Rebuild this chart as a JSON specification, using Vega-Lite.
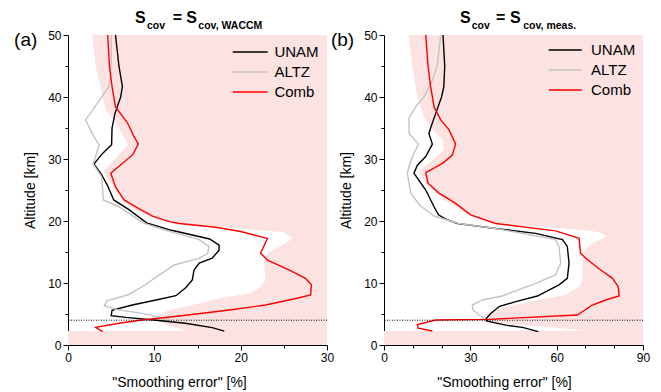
{
  "$schema": "https://vega.github.io/schema/vega-lite/v6.json",
  "background": "white",
  "padding": {"left": 14, "top": 10, "right": 5, "bottom": 3},
  "bounds": "flush",
  "spacing": 57,
  "config": {
    "view": {"stroke": null},
    "font": "Liberation Sans",
    "axis": {"grid": false, "labelFlush": false, "labelOverlap": false, "domainColor": "#000", "tickColor": "#000", "labelColor": "#000", "titleColor": "#000", "labelFontSize": 12, "titleFontSize": 14, "titleFontWeight": "normal", "labelFont": "Liberation Sans", "titleFont": "Liberation Sans", "domainWidth": 1, "tickWidth": 1, "tickSize": 5}
  },
  "datasets": {
    "lines": [
      {"p":"a","s":"UNAM","i":1,"alt":50,"e":5.5},{"p":"a","s":"UNAM","i":2,"alt":45,"e":5.9},{"p":"a","s":"UNAM","i":3,"alt":41.7,"e":6.3},{"p":"a","s":"UNAM","i":4,"alt":40,"e":6.1},{"p":"a","s":"UNAM","i":5,"alt":37.4,"e":5.45},{"p":"a","s":"UNAM","i":6,"alt":35,"e":5.1},{"p":"a","s":"UNAM","i":7,"alt":32.3,"e":5.05},{"p":"a","s":"UNAM","i":8,"alt":30.9,"e":4.0},{"p":"a","s":"UNAM","i":9,"alt":29.2,"e":3.0},{"p":"a","s":"UNAM","i":10,"alt":27.7,"e":3.8},{"p":"a","s":"UNAM","i":11,"alt":25.8,"e":4.55},{"p":"a","s":"UNAM","i":12,"alt":23.4,"e":5.3},{"p":"a","s":"UNAM","i":13,"alt":21.8,"e":7.1},{"p":"a","s":"UNAM","i":14,"alt":19.7,"e":9.1},{"p":"a","s":"UNAM","i":15,"alt":18.5,"e":12.0},{"p":"a","s":"UNAM","i":16,"alt":17.1,"e":16.4},{"p":"a","s":"UNAM","i":17,"alt":16.1,"e":17.5},{"p":"a","s":"UNAM","i":18,"alt":15.3,"e":17.5},{"p":"a","s":"UNAM","i":19,"alt":14.0,"e":16.7},{"p":"a","s":"UNAM","i":20,"alt":13.2,"e":15.2},{"p":"a","s":"UNAM","i":21,"alt":12.1,"e":14.6},{"p":"a","s":"UNAM","i":22,"alt":10.5,"e":14.4},{"p":"a","s":"UNAM","i":23,"alt":9.2,"e":13.6},{"p":"a","s":"UNAM","i":24,"alt":7.95,"e":12.5},{"p":"a","s":"UNAM","i":25,"alt":7.26,"e":10.2},{"p":"a","s":"UNAM","i":26,"alt":6.45,"e":7.45},{"p":"a","s":"UNAM","i":27,"alt":5.6,"e":5.1},{"p":"a","s":"UNAM","i":28,"alt":4.73,"e":5.0},{"p":"a","s":"UNAM","i":29,"alt":4.45,"e":6.7},{"p":"a","s":"UNAM","i":30,"alt":4.0,"e":10.2},{"p":"a","s":"UNAM","i":31,"alt":3.5,"e":13.6},{"p":"a","s":"UNAM","i":32,"alt":2.8,"e":16.7},{"p":"a","s":"UNAM","i":33,"alt":2.25,"e":18.1},
      {"p":"a","s":"ALTZ","i":1,"alt":50,"e":5.0},{"p":"a","s":"ALTZ","i":2,"alt":45,"e":5.0},{"p":"a","s":"ALTZ","i":3,"alt":41.7,"e":4.75},{"p":"a","s":"ALTZ","i":4,"alt":36.3,"e":2.05},{"p":"a","s":"ALTZ","i":5,"alt":33.6,"e":3.0},{"p":"a","s":"ALTZ","i":6,"alt":32.3,"e":3.6},{"p":"a","s":"ALTZ","i":7,"alt":30.4,"e":3.2},{"p":"a","s":"ALTZ","i":8,"alt":29.2,"e":2.9},{"p":"a","s":"ALTZ","i":9,"alt":28.2,"e":3.4},{"p":"a","s":"ALTZ","i":10,"alt":27.1,"e":3.9},{"p":"a","s":"ALTZ","i":11,"alt":23.4,"e":4.1},{"p":"a","s":"ALTZ","i":12,"alt":22.3,"e":5.9},{"p":"a","s":"ALTZ","i":13,"alt":19.7,"e":8.7},{"p":"a","s":"ALTZ","i":14,"alt":18.5,"e":11.3},{"p":"a","s":"ALTZ","i":15,"alt":17.0,"e":15.2},{"p":"a","s":"ALTZ","i":16,"alt":15.9,"e":16.3},{"p":"a","s":"ALTZ","i":17,"alt":14.8,"e":16.2},{"p":"a","s":"ALTZ","i":18,"alt":14.0,"e":15.2},{"p":"a","s":"ALTZ","i":19,"alt":12.9,"e":12.3},{"p":"a","s":"ALTZ","i":20,"alt":10.75,"e":10.0},{"p":"a","s":"ALTZ","i":21,"alt":9.4,"e":8.6},{"p":"a","s":"ALTZ","i":22,"alt":8.06,"e":6.9},{"p":"a","s":"ALTZ","i":23,"alt":7.15,"e":4.55},{"p":"a","s":"ALTZ","i":24,"alt":6.3,"e":4.2},{"p":"a","s":"ALTZ","i":25,"alt":5.7,"e":5.7},{"p":"a","s":"ALTZ","i":26,"alt":5.1,"e":8.6},{"p":"a","s":"ALTZ","i":27,"alt":4.45,"e":10.7},{"p":"a","s":"ALTZ","i":28,"alt":4.3,"e":11.7},
      {"p":"a","s":"Comb","i":1,"alt":50,"e":4.6},{"p":"a","s":"Comb","i":2,"alt":45,"e":4.8},{"p":"a","s":"Comb","i":3,"alt":41.7,"e":5.1},{"p":"a","s":"Comb","i":4,"alt":38.4,"e":5.5},{"p":"a","s":"Comb","i":5,"alt":35.8,"e":6.9},{"p":"a","s":"Comb","i":6,"alt":33.6,"e":7.65},{"p":"a","s":"Comb","i":7,"alt":32.4,"e":8.15},{"p":"a","s":"Comb","i":8,"alt":30.7,"e":7.5},{"p":"a","s":"Comb","i":9,"alt":27.7,"e":4.95},{"p":"a","s":"Comb","i":10,"alt":25.5,"e":5.5},{"p":"a","s":"Comb","i":11,"alt":23.4,"e":6.5},{"p":"a","s":"Comb","i":12,"alt":22.0,"e":8.2},{"p":"a","s":"Comb","i":13,"alt":20.8,"e":9.8},{"p":"a","s":"Comb","i":14,"alt":19.9,"e":11.7},{"p":"a","s":"Comb","i":15,"alt":19.6,"e":12.9},{"p":"a","s":"Comb","i":16,"alt":19.0,"e":17.1},{"p":"a","s":"Comb","i":17,"alt":18.3,"e":20.0},{"p":"a","s":"Comb","i":18,"alt":17.2,"e":23.1},{"p":"a","s":"Comb","i":19,"alt":14.8,"e":22.3},{"p":"a","s":"Comb","i":20,"alt":13.7,"e":23.1},{"p":"a","s":"Comb","i":21,"alt":12.1,"e":25.6},{"p":"a","s":"Comb","i":22,"alt":10.75,"e":27.5},{"p":"a","s":"Comb","i":23,"alt":9.7,"e":28.2},{"p":"a","s":"Comb","i":24,"alt":8.06,"e":28.1},{"p":"a","s":"Comb","i":25,"alt":7.5,"e":26.4},{"p":"a","s":"Comb","i":26,"alt":6.45,"e":22.9},{"p":"a","s":"Comb","i":27,"alt":5.65,"e":18.7},{"p":"a","s":"Comb","i":28,"alt":4.68,"e":12.9},{"p":"a","s":"Comb","i":29,"alt":4.03,"e":8.6},{"p":"a","s":"Comb","i":30,"alt":3.5,"e":5.9},{"p":"a","s":"Comb","i":31,"alt":2.85,"e":3.2},{"p":"a","s":"Comb","i":32,"alt":2.15,"e":4.0},
      {"p":"b","s":"UNAM","i":1,"alt":50,"e":20.5},{"p":"b","s":"UNAM","i":2,"alt":45,"e":21.1},{"p":"b","s":"UNAM","i":3,"alt":41.7,"e":20.8},{"p":"b","s":"UNAM","i":4,"alt":40,"e":20.0},{"p":"b","s":"UNAM","i":5,"alt":37.4,"e":18.0},{"p":"b","s":"UNAM","i":6,"alt":35,"e":16.2},{"p":"b","s":"UNAM","i":7,"alt":34.1,"e":15.6},{"p":"b","s":"UNAM","i":8,"alt":32.4,"e":16.8},{"p":"b","s":"UNAM","i":9,"alt":30.4,"e":14.5},{"p":"b","s":"UNAM","i":10,"alt":29.0,"e":11.6},{"p":"b","s":"UNAM","i":11,"alt":27.7,"e":10.4},{"p":"b","s":"UNAM","i":12,"alt":25.0,"e":14.5},{"p":"b","s":"UNAM","i":13,"alt":22.3,"e":17.4},{"p":"b","s":"UNAM","i":14,"alt":21.0,"e":18.9},{"p":"b","s":"UNAM","i":15,"alt":20.2,"e":22.0},{"p":"b","s":"UNAM","i":16,"alt":19.6,"e":25.5},{"p":"b","s":"UNAM","i":17,"alt":18.8,"e":38.8},{"p":"b","s":"UNAM","i":18,"alt":18.0,"e":52.7},{"p":"b","s":"UNAM","i":19,"alt":17.0,"e":62.0},{"p":"b","s":"UNAM","i":20,"alt":15.9,"e":63.7},{"p":"b","s":"UNAM","i":21,"alt":13.2,"e":64.3},{"p":"b","s":"UNAM","i":22,"alt":10.75,"e":63.7},{"p":"b","s":"UNAM","i":23,"alt":9.7,"e":60.8},{"p":"b","s":"UNAM","i":24,"alt":7.9,"e":53.3},{"p":"b","s":"UNAM","i":25,"alt":7.0,"e":45.8},{"p":"b","s":"UNAM","i":26,"alt":6.2,"e":40.0},{"p":"b","s":"UNAM","i":27,"alt":5.1,"e":37.1},{"p":"b","s":"UNAM","i":28,"alt":4.3,"e":35.6},{"p":"b","s":"UNAM","i":29,"alt":3.9,"e":35.6},{"p":"b","s":"UNAM","i":30,"alt":3.2,"e":42.3},{"p":"b","s":"UNAM","i":31,"alt":2.85,"e":48.1},{"p":"b","s":"UNAM","i":32,"alt":2.15,"e":53.6},
      {"p":"b","s":"ALTZ","i":1,"alt":50,"e":19.7},{"p":"b","s":"ALTZ","i":2,"alt":45,"e":18.5},{"p":"b","s":"ALTZ","i":3,"alt":42.7,"e":16.8},{"p":"b","s":"ALTZ","i":4,"alt":40,"e":13.9},{"p":"b","s":"ALTZ","i":5,"alt":38.4,"e":11.0},{"p":"b","s":"ALTZ","i":6,"alt":36.6,"e":8.7},{"p":"b","s":"ALTZ","i":7,"alt":34.1,"e":8.7},{"p":"b","s":"ALTZ","i":8,"alt":32.4,"e":12.0},{"p":"b","s":"ALTZ","i":9,"alt":30.5,"e":10.0},{"p":"b","s":"ALTZ","i":10,"alt":29.3,"e":9.0},{"p":"b","s":"ALTZ","i":11,"alt":27.7,"e":8.1},{"p":"b","s":"ALTZ","i":12,"alt":24.5,"e":9.3},{"p":"b","s":"ALTZ","i":13,"alt":22.5,"e":12.5},{"p":"b","s":"ALTZ","i":14,"alt":20.8,"e":17.4},{"p":"b","s":"ALTZ","i":15,"alt":19.6,"e":26.0},{"p":"b","s":"ALTZ","i":16,"alt":18.8,"e":38.8},{"p":"b","s":"ALTZ","i":17,"alt":17.0,"e":59.6},{"p":"b","s":"ALTZ","i":18,"alt":15.9,"e":60.8},{"p":"b","s":"ALTZ","i":19,"alt":13.2,"e":61.4},{"p":"b","s":"ALTZ","i":20,"alt":11.3,"e":59.6},{"p":"b","s":"ALTZ","i":21,"alt":9.95,"e":52.7},{"p":"b","s":"ALTZ","i":22,"alt":7.9,"e":41.1},{"p":"b","s":"ALTZ","i":23,"alt":7.26,"e":34.2},{"p":"b","s":"ALTZ","i":24,"alt":6.45,"e":30.7},{"p":"b","s":"ALTZ","i":25,"alt":5.65,"e":30.9},{"p":"b","s":"ALTZ","i":26,"alt":4.84,"e":33.0},{"p":"b","s":"ALTZ","i":27,"alt":4.3,"e":35.0},
      {"p":"b","s":"Comb","i":1,"alt":50,"e":14.5},{"p":"b","s":"Comb","i":2,"alt":45,"e":15.3},{"p":"b","s":"Comb","i":3,"alt":41.7,"e":16.2},{"p":"b","s":"Comb","i":4,"alt":38.4,"e":17.4},{"p":"b","s":"Comb","i":5,"alt":36.3,"e":19.7},{"p":"b","s":"Comb","i":6,"alt":34.7,"e":22.6},{"p":"b","s":"Comb","i":7,"alt":32.4,"e":24.9},{"p":"b","s":"Comb","i":8,"alt":30.6,"e":23.7},{"p":"b","s":"Comb","i":9,"alt":29.3,"e":20.3},{"p":"b","s":"Comb","i":10,"alt":27.8,"e":14.5},{"p":"b","s":"Comb","i":11,"alt":26.1,"e":15.3},{"p":"b","s":"Comb","i":12,"alt":24.5,"e":19.1},{"p":"b","s":"Comb","i":13,"alt":22.85,"e":24.9},{"p":"b","s":"Comb","i":14,"alt":21.0,"e":30.1},{"p":"b","s":"Comb","i":15,"alt":19.6,"e":38.8},{"p":"b","s":"Comb","i":16,"alt":18.4,"e":59.6},{"p":"b","s":"Comb","i":17,"alt":17.2,"e":67.8},{"p":"b","s":"Comb","i":18,"alt":14.8,"e":68.3},{"p":"b","s":"Comb","i":19,"alt":14.0,"e":70.1},{"p":"b","s":"Comb","i":20,"alt":12.1,"e":75.3},{"p":"b","s":"Comb","i":21,"alt":10.75,"e":79.4},{"p":"b","s":"Comb","i":22,"alt":9.4,"e":81.4},{"p":"b","s":"Comb","i":23,"alt":7.9,"e":81.7},{"p":"b","s":"Comb","i":24,"alt":7.26,"e":77.0},{"p":"b","s":"Comb","i":25,"alt":6.45,"e":72.4},{"p":"b","s":"Comb","i":26,"alt":4.84,"e":67.2},{"p":"b","s":"Comb","i":27,"alt":4.14,"e":36.5},{"p":"b","s":"Comb","i":28,"alt":4.03,"e":18.0},{"p":"b","s":"Comb","i":29,"alt":3.3,"e":11.6},{"p":"b","s":"Comb","i":30,"alt":2.7,"e":11.9},{"p":"b","s":"Comb","i":31,"alt":2.26,"e":16.8}
    ],
    "pink": [
      {"p":"a","alt":0,"xl":0},{"p":"a","alt":2.25,"xl":0},{"p":"a","alt":2.3,"xl":13.8},{"p":"a","alt":2.6,"xl":13.0},{"p":"a","alt":3.2,"xl":11.5},{"p":"a","alt":3.75,"xl":10.5},{"p":"a","alt":4.3,"xl":9.8},{"p":"a","alt":4.84,"xl":10.5},{"p":"a","alt":5.65,"xl":11.7},{"p":"a","alt":6.45,"xl":14.4},{"p":"a","alt":7.5,"xl":17.5},{"p":"a","alt":8.3,"xl":21.0},{"p":"a","alt":9.1,"xl":22.1},{"p":"a","alt":10.5,"xl":22.9},{"p":"a","alt":13.2,"xl":22.7},{"p":"a","alt":14.5,"xl":22.9},{"p":"a","alt":15.3,"xl":23.7},{"p":"a","alt":16.4,"xl":25.2},{"p":"a","alt":17.2,"xl":26.0},{"p":"a","alt":18.2,"xl":25.0},{"p":"a","alt":18.5,"xl":22.0},{"p":"a","alt":19.0,"xl":18.0},{"p":"a","alt":19.6,"xl":13.0},{"p":"a","alt":20.2,"xl":10.3},{"p":"a","alt":21.8,"xl":7.8},{"p":"a","alt":23.4,"xl":6.3},{"p":"a","alt":25.5,"xl":5.3},{"p":"a","alt":27.7,"xl":4.2},{"p":"a","alt":28.2,"xl":4.2},{"p":"a","alt":29.8,"xl":5.3},{"p":"a","alt":32.3,"xl":6.9},{"p":"a","alt":33.1,"xl":6.7},{"p":"a","alt":35.8,"xl":5.5},{"p":"a","alt":37.9,"xl":4.4},{"p":"a","alt":40,"xl":4.0},{"p":"a","alt":45,"xl":3.2},{"p":"a","alt":50,"xl":2.8},
      {"p":"b","alt":0,"xl":0},{"p":"b","alt":2.25,"xl":0},{"p":"b","alt":2.3,"xl":70},{"p":"b","alt":2.8,"xl":60},{"p":"b","alt":3.3,"xl":45},{"p":"b","alt":3.9,"xl":35},{"p":"b","alt":4.45,"xl":34.2},{"p":"b","alt":5.1,"xl":35.3},{"p":"b","alt":5.9,"xl":41.1},{"p":"b","alt":7.0,"xl":50.4},{"p":"b","alt":8.06,"xl":63.1},{"p":"b","alt":9.4,"xl":67.8},{"p":"b","alt":10.5,"xl":68.9},{"p":"b","alt":13.7,"xl":68.9},{"p":"b","alt":15.3,"xl":69.5},{"p":"b","alt":16.4,"xl":72.4},{"p":"b","alt":17.5,"xl":77.6},{"p":"b","alt":18.2,"xl":75},{"p":"b","alt":18.5,"xl":70},{"p":"b","alt":19.0,"xl":58},{"p":"b","alt":19.6,"xl":38.2},{"p":"b","alt":21.2,"xl":28.9},{"p":"b","alt":23.4,"xl":20.8},{"p":"b","alt":26.1,"xl":14.5},{"p":"b","alt":28.0,"xl":12.2},{"p":"b","alt":29.8,"xl":16.8},{"p":"b","alt":31.5,"xl":20.8},{"p":"b","alt":33.1,"xl":20.3},{"p":"b","alt":35.2,"xl":16},{"p":"b","alt":36.8,"xl":13.9},{"p":"b","alt":40,"xl":11.6},{"p":"b","alt":45,"xl":9.8},{"p":"b","alt":50,"xl":8.5}
    ]
  },
  "resolve": {"legend": {"color": "independent"}},
  "hconcat": [
    {
      "width": 259, "height": 310,
      "resolve": {"axis": {"x": "independent", "y": "independent"}},
      "layer": [
        {
          "data": {"name": "pink"},
          "transform": [{"filter": "datum.p === 'a'"}],
          "mark": {"type": "area", "orient": "horizontal", "color": "#fde2e2"},
          "encoding": {
            "y": {"field": "alt", "type": "quantitative", "scale": {"domain": [0, 50], "nice": false},
              "axis": {"orient": "left", "title": "Altitude [km]", "values": [0,10,20,30,40,50], "titleX": -31}},
            "x": {"field": "xl", "type": "quantitative", "scale": {"domain": [0, 30], "nice": false},
              "axis": {"orient": "bottom", "title": "\"Smoothing error\" [%]", "values": [0,10,20,30], "titleX": 111, "titleY": 30}},
            "x2": {"datum": 30}
          }
        },
        {
          "data": {"name": "lines"},
          "transform": [{"filter": "datum.p === 'a'"}],
          "mark": {"type": "line", "strokeWidth": 1.4},
          "encoding": {
            "x": {"field": "e", "type": "quantitative", "axis": {"orient": "bottom", "values": [5,15,25], "labels": false, "domain": false, "title": null, "tickSize": 3}},
            "y": {"field": "alt", "type": "quantitative", "axis": {"orient": "left", "values": [5,15,25,35,45], "labels": false, "domain": false, "title": null, "tickSize": 3}},
            "order": {"field": "i", "type": "quantitative"},
            "color": {"field": "s", "type": "nominal", "scale": {"domain": ["UNAM", "ALTZ", "Comb"], "range": ["#000000", "#c3c3c3", "#ff0000"]},
              "legend": {"title": null, "orient": "none", "legendX": 174.7, "legendY": 9.5, "symbolType": "M-3,0H3", "symbolSize": 136, "symbolStrokeWidth": 1.5, "labelFontSize": 15, "labelOffset": 16.7, "rowPadding": 4, "padding": 0, "labelColor": "#000", "labelFont": "Liberation Sans"}}
          }
        },
        {
          "data": {"values": [{}]},
          "mark": {"type": "rule", "color": "#000", "strokeWidth": 1, "strokeDash": [1, 1.5]},
          "encoding": {"y": {"datum": 4, "axis": null}}
        },
        {"data": {"values": [{}]}, "mark": {"type": "text", "text": "(a)", "fontSize": 19, "align": "center", "baseline": "middle", "color": "#000"}, "encoding": {"x": {"datum": -4.9, "axis": null}, "y": {"datum": 49.2, "axis": null}}},
        {"data": {"values": [{}]}, "mark": {"type": "text", "text": "S", "fontSize": 16, "fontWeight": "bold", "align": "left", "baseline": "alphabetic", "color": "#000"}, "encoding": {"x": {"datum": 7.75, "axis": null}, "y": {"datum": 51.9, "axis": null}}},
        {"data": {"values": [{}]}, "mark": {"type": "text", "text": "cov", "fontSize": 10.5, "fontWeight": "bold", "align": "left", "baseline": "alphabetic", "color": "#000"}, "encoding": {"x": {"datum": 9.15, "axis": null}, "y": {"datum": 50.97, "axis": null}}},
        {"data": {"values": [{}]}, "mark": {"type": "text", "text": "=", "fontSize": 16, "fontWeight": "bold", "align": "center", "baseline": "alphabetic", "color": "#000"}, "encoding": {"x": {"datum": 12.67, "axis": null}, "y": {"datum": 51.9, "axis": null}}},
        {"data": {"values": [{}]}, "mark": {"type": "text", "text": "S", "fontSize": 16, "fontWeight": "bold", "align": "left", "baseline": "alphabetic", "color": "#000"}, "encoding": {"x": {"datum": 13.7, "axis": null}, "y": {"datum": 51.9, "axis": null}}},
        {"data": {"values": [{}]}, "mark": {"type": "text", "text": "cov, WACCM", "fontSize": 10.5, "fontWeight": "bold", "align": "left", "baseline": "alphabetic", "color": "#000"}, "encoding": {"x": {"datum": 15.1, "axis": null}, "y": {"datum": 50.97, "axis": null}}}
      ]
    },
    {
      "width": 259, "height": 310,
      "resolve": {"axis": {"x": "independent", "y": "independent"}},
      "layer": [
        {
          "data": {"name": "pink"},
          "transform": [{"filter": "datum.p === 'b'"}],
          "mark": {"type": "area", "orient": "horizontal", "color": "#fde2e2"},
          "encoding": {
            "y": {"field": "alt", "type": "quantitative", "scale": {"domain": [0, 50], "nice": false},
              "axis": {"orient": "left", "title": "Altitude [km]", "values": [0,10,20,30,40,50], "titleX": -31}},
            "x": {"field": "xl", "type": "quantitative", "scale": {"domain": [0, 90], "nice": false},
              "axis": {"orient": "bottom", "title": "\"Smoothing error\" [%]", "values": [0,30,60,90], "titleX": 120, "titleY": 30}},
            "x2": {"datum": 90}
          }
        },
        {
          "data": {"name": "lines"},
          "transform": [{"filter": "datum.p === 'b'"}],
          "mark": {"type": "line", "strokeWidth": 1.4},
          "encoding": {
            "x": {"field": "e", "type": "quantitative", "axis": {"orient": "bottom", "values": [10,20,40,50,70,80], "labels": false, "domain": false, "title": null, "tickSize": 3}},
            "y": {"field": "alt", "type": "quantitative", "axis": {"orient": "left", "values": [5,15,25,35,45], "labels": false, "domain": false, "title": null, "tickSize": 3}},
            "order": {"field": "i", "type": "quantitative"},
            "color": {"field": "s", "type": "nominal", "scale": {"domain": ["UNAM", "ALTZ", "Comb"], "range": ["#000000", "#c3c3c3", "#ff0000"]},
              "legend": {"title": null, "orient": "none", "legendX": 173.7, "legendY": 7.5, "symbolType": "M-3,0H3", "symbolSize": 121, "symbolStrokeWidth": 1.5, "labelFontSize": 15, "labelOffset": 18.3, "rowPadding": 4, "padding": 0, "labelColor": "#000", "labelFont": "Liberation Sans"}}
          }
        },
        {
          "data": {"values": [{}]},
          "mark": {"type": "rule", "color": "#000", "strokeWidth": 1, "strokeDash": [1, 1.5]},
          "encoding": {"y": {"datum": 4, "axis": null}}
        },
        {"data": {"values": [{}]}, "mark": {"type": "text", "text": "(b)", "fontSize": 19, "align": "center", "baseline": "middle", "color": "#000"}, "encoding": {"x": {"datum": -14.4, "axis": null}, "y": {"datum": 49.2, "axis": null}}},
        {"data": {"values": [{}]}, "mark": {"type": "text", "text": "S", "fontSize": 16, "fontWeight": "bold", "align": "left", "baseline": "alphabetic", "color": "#000"}, "encoding": {"x": {"datum": 26.4, "axis": null}, "y": {"datum": 51.9, "axis": null}}},
        {"data": {"values": [{}]}, "mark": {"type": "text", "text": "cov", "fontSize": 10.5, "fontWeight": "bold", "align": "left", "baseline": "alphabetic", "color": "#000"}, "encoding": {"x": {"datum": 30.5, "axis": null}, "y": {"datum": 50.97, "axis": null}}},
        {"data": {"values": [{}]}, "mark": {"type": "text", "text": "=", "fontSize": 16, "fontWeight": "bold", "align": "center", "baseline": "alphabetic", "color": "#000"}, "encoding": {"x": {"datum": 40.5, "axis": null}, "y": {"datum": 51.9, "axis": null}}},
        {"data": {"values": [{}]}, "mark": {"type": "text", "text": "S", "fontSize": 16, "fontWeight": "bold", "align": "left", "baseline": "alphabetic", "color": "#000"}, "encoding": {"x": {"datum": 43.8, "axis": null}, "y": {"datum": 51.9, "axis": null}}},
        {"data": {"values": [{}]}, "mark": {"type": "text", "text": "cov, meas.", "fontSize": 10.5, "fontWeight": "bold", "align": "left", "baseline": "alphabetic", "color": "#000"}, "encoding": {"x": {"datum": 48.4, "axis": null}, "y": {"datum": 50.97, "axis": null}}}
      ]
    }
  ]
}
